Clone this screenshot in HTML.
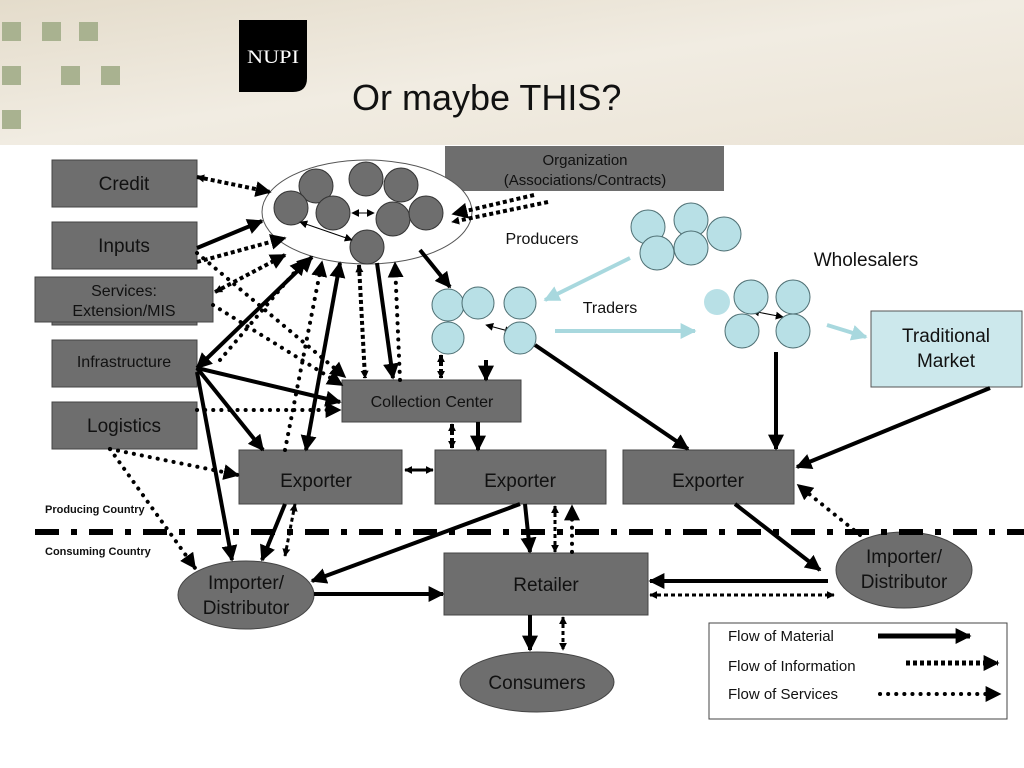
<!DOCTYPE html>
<html><head><meta charset="utf-8"><style>
html,body{margin:0;padding:0;width:1024px;height:768px;overflow:hidden;background:#fff;font-family:"Liberation Sans",sans-serif}
</style></head><body>
<svg width="1024" height="768" viewBox="0 0 1024 768" xmlns="http://www.w3.org/2000/svg" font-family="Liberation Sans, sans-serif">
<defs>
<linearGradient id="hdr" x1="0" y1="0" x2="1" y2="1">
<stop offset="0" stop-color="#e4dccb"/><stop offset="0.5" stop-color="#f1ece2"/><stop offset="1" stop-color="#ebe4d6"/>
</linearGradient>
<marker id="a" viewBox="0 0 10 10" refX="9" refY="5" markerWidth="16" markerHeight="16" markerUnits="userSpaceOnUse" orient="auto-start-reverse"><path d="M0,0L10,5L0,10z" fill="#000"/></marker>
<marker id="s" viewBox="0 0 10 10" refX="9" refY="5" markerWidth="8" markerHeight="8" markerUnits="userSpaceOnUse" orient="auto-start-reverse"><path d="M0,0L10,5L0,10z" fill="#000"/></marker>
<marker id="b" viewBox="0 0 10 10" refX="9" refY="5" markerWidth="16" markerHeight="16" markerUnits="userSpaceOnUse" orient="auto"><path d="M0,0L10,5L0,10z" fill="#a8d8de"/></marker>
</defs>
<rect x="0" y="0" width="1024" height="145" fill="url(#hdr)"/>
<g fill="#a9b290">
<rect x="2" y="22" width="19" height="19"/><rect x="42" y="22" width="19" height="19"/><rect x="79" y="22" width="19" height="19"/>
<rect x="2" y="66" width="19" height="19"/><rect x="61" y="66" width="19" height="19"/><rect x="101" y="66" width="19" height="19"/>
<rect x="2" y="110" width="19" height="19"/>
</g>
<path d="M239,20H307V78Q307,92 293,92H239z" fill="#000"/>
<text x="247" y="63" font-family="Liberation Serif, serif" font-size="19" fill="#fff" textLength="52" lengthAdjust="spacingAndGlyphs">NUPI</text>
<text x="352" y="110" font-size="36" fill="#111">Or maybe THIS?</text>

<!-- boxes -->
<g fill="#6e6e6e" stroke="#444" stroke-width="1">
<rect x="52" y="160" width="145" height="47"/>
<rect x="52" y="222" width="145" height="47"/>
<rect x="52" y="300" width="145" height="25"/>
<rect x="35" y="277" width="178" height="45"/>
<rect x="52" y="340" width="145" height="47"/>
<rect x="52" y="402" width="145" height="47"/>
<rect x="445" y="146" width="279" height="45" stroke="none"/>
<rect x="342" y="380" width="179" height="42"/>
<rect x="239" y="450" width="163" height="54"/>
<rect x="435" y="450" width="171" height="54"/>
<rect x="623" y="450" width="171" height="54"/>
<rect x="444" y="553" width="204" height="62"/>
<ellipse cx="537" cy="682" rx="77" ry="30"/>
<ellipse cx="246" cy="595" rx="68" ry="34"/>
<ellipse cx="904" cy="570" rx="68" ry="38"/>
</g>
<rect x="871" y="311" width="151" height="76" fill="#cce8ec" stroke="#555"/>
<g font-size="19" fill="#111" text-anchor="middle">
<text x="124" y="190">Credit</text>
<text x="124" y="252">Inputs</text>
<text x="124" y="296" font-size="16">Services:</text>
<text x="124" y="316" font-size="16">Extension/MIS</text>
<text x="124" y="367" font-size="16">Infrastructure</text>
<text x="124" y="432">Logistics</text>
<text x="585" y="165" font-size="15">Organization</text>
<text x="585" y="185" font-size="15">(Associations/Contracts)</text>
<text x="432" y="407" font-size="16">Collection Center</text>
<text x="316" y="487">Exporter</text>
<text x="520" y="487">Exporter</text>
<text x="708" y="487">Exporter</text>
<text x="546" y="591">Retailer</text>
<text x="537" y="689">Consumers</text>
<text x="246" y="589">Importer/</text>
<text x="246" y="614">Distributor</text>
<text x="904" y="563">Importer/</text>
<text x="904" y="588">Distributor</text>
<text x="946" y="342">Traditional</text>
<text x="946" y="367">Market</text>
<text x="542" y="244" font-size="16">Producers</text>
<text x="610" y="313" font-size="16">Traders</text>
<text x="866" y="266" font-size="19">Wholesalers</text>
</g>
<text x="45" y="513" font-size="11" font-weight="bold" fill="#111">Producing Country</text>
<text x="45" y="555" font-size="11" font-weight="bold" fill="#111">Consuming Country</text>

<!-- producer ellipse -->
<ellipse cx="367" cy="212" rx="105" ry="52" fill="#fff" stroke="#555"/>
<g fill="#6e6e6e" stroke="#333">
<circle cx="316" cy="186" r="17"/><circle cx="366" cy="179" r="17"/><circle cx="401" cy="185" r="17"/>
<circle cx="291" cy="208" r="17"/><circle cx="333" cy="213" r="17"/><circle cx="393" cy="219" r="17"/>
<circle cx="426" cy="213" r="17"/><circle cx="367" cy="247" r="17"/>
</g>
<g stroke="#000" stroke-width="1" fill="none">
<line x1="352" y1="213" x2="374" y2="213" marker-start="url(#s)" marker-end="url(#s)"/>
<line x1="300" y1="222" x2="352" y2="240" marker-start="url(#s)" marker-end="url(#s)"/>
<line x1="486" y1="325" x2="512" y2="332" marker-start="url(#s)" marker-end="url(#s)"/>
<line x1="752" y1="311" x2="783" y2="317" marker-start="url(#s)" marker-end="url(#s)"/>
</g>
<!-- light blue circles -->
<g fill="#b8e0e6" stroke="#4d6e72">
<circle cx="448" cy="305" r="16"/><circle cx="478" cy="303" r="16"/><circle cx="520" cy="303" r="16"/>
<circle cx="448" cy="338" r="16"/><circle cx="520" cy="338" r="16"/>
<circle cx="648" cy="227" r="17"/><circle cx="691" cy="220" r="17"/><circle cx="724" cy="234" r="17"/>
<circle cx="657" cy="253" r="17"/><circle cx="691" cy="248" r="17"/>
<circle cx="717" cy="302" r="13" stroke="none"/>
<circle cx="751" cy="297" r="17"/><circle cx="793" cy="297" r="17"/>
<circle cx="742" cy="331" r="17"/><circle cx="793" cy="331" r="17"/>
</g>
<g stroke="#a8d8de" stroke-width="4" fill="none">
<line x1="630" y1="258" x2="545" y2="300" marker-end="url(#b)"/>
<line x1="555" y1="331" x2="695" y2="331" marker-end="url(#b)"/>
<line x1="827" y1="325" x2="866" y2="337" marker-end="url(#b)"/>
</g>

<!-- dash-dot separator -->
<line x1="35" y1="532" x2="1024" y2="532" stroke="#000" stroke-width="6" stroke-dasharray="24 12 6 12"/>

<!-- solid material arrows -->
<g stroke="#000" stroke-width="4" fill="none">
<line x1="197" y1="248" x2="262" y2="221" marker-end="url(#a)"/>
<line x1="197" y1="368" x2="312" y2="257" marker-start="url(#a)" marker-end="url(#a)"/>
<line x1="197" y1="368" x2="340" y2="402" marker-end="url(#a)"/>
<line x1="197" y1="368" x2="263" y2="450" marker-end="url(#a)"/>
<line x1="197" y1="372" x2="232" y2="560" marker-end="url(#a)"/>
<line x1="340" y1="263" x2="306" y2="450" marker-start="url(#a)" marker-end="url(#a)"/>
<line x1="377" y1="263" x2="393" y2="378" marker-end="url(#a)"/>
<line x1="420" y1="250" x2="450" y2="287" marker-end="url(#a)"/>
<line x1="486" y1="360" x2="486" y2="380" marker-end="url(#a)"/>
<line x1="478" y1="422" x2="478" y2="450" marker-end="url(#a)"/>
<line x1="535" y1="345" x2="688" y2="449" marker-end="url(#a)"/>
<line x1="776" y1="352" x2="776" y2="449" marker-end="url(#a)"/>
<line x1="990" y1="388" x2="797" y2="467" marker-end="url(#a)"/>
<line x1="285" y1="504" x2="262" y2="560" marker-end="url(#a)"/>
<line x1="520" y1="504" x2="312" y2="581" marker-end="url(#a)"/>
<line x1="525" y1="504" x2="530" y2="552" marker-end="url(#a)"/>
<line x1="735" y1="504" x2="820" y2="570" marker-end="url(#a)"/>
<line x1="828" y1="581" x2="650" y2="581" marker-end="url(#a)"/>
<line x1="314" y1="594" x2="443" y2="594" marker-end="url(#a)"/>
<line x1="530" y1="615" x2="530" y2="650" marker-end="url(#a)"/>
<line x1="405" y1="470" x2="433" y2="470" stroke-width="3" marker-start="url(#s)" marker-end="url(#s)"/>
<line x1="878" y1="636" x2="970" y2="636" stroke-width="5" marker-end="url(#a)"/>
</g>
<!-- information (dashed) -->
<g stroke="#000" stroke-width="4" fill="none" stroke-dasharray="4 3">
<line x1="197" y1="177" x2="270" y2="192" marker-start="url(#s)" marker-end="url(#a)"/>
<line x1="197" y1="262" x2="285" y2="238" marker-end="url(#a)"/>
<line x1="215" y1="292" x2="285" y2="255" marker-start="url(#s)" marker-end="url(#a)"/>
<line x1="534" y1="195" x2="453" y2="214" marker-end="url(#a)"/>
<line x1="548" y1="202" x2="452" y2="222" marker-end="url(#s)"/>
<line x1="359" y1="265" x2="365" y2="378" marker-start="url(#s)" marker-end="url(#s)"/>
<line x1="441" y1="355" x2="441" y2="378" marker-start="url(#s)" marker-end="url(#s)"/>
<line x1="452" y1="424" x2="452" y2="448" marker-start="url(#s)" marker-end="url(#s)"/>
<line x1="295" y1="504" x2="285" y2="556" stroke-width="3" marker-start="url(#s)" marker-end="url(#s)"/>
<line x1="555" y1="506" x2="555" y2="552" stroke-width="3" marker-start="url(#s)" marker-end="url(#s)"/>
<line x1="650" y1="595" x2="834" y2="595" stroke-width="3" marker-start="url(#s)" marker-end="url(#s)"/>
<line x1="563" y1="617" x2="563" y2="650" stroke-width="3" marker-start="url(#s)" marker-end="url(#s)"/>
<line x1="906" y1="663" x2="998" y2="663" stroke-width="5" marker-end="url(#a)"/>
</g>
<!-- services (dotted) -->
<g stroke="#000" stroke-width="4" fill="none" stroke-dasharray="0.1 8" stroke-linecap="round">
<line x1="197" y1="253" x2="345" y2="377" marker-end="url(#a)"/>
<line x1="213" y1="305" x2="342" y2="385" marker-end="url(#a)"/>
<line x1="197" y1="410" x2="340" y2="410" marker-end="url(#a)"/>
<line x1="220" y1="360" x2="305" y2="260" marker-end="url(#a)"/>
<line x1="285" y1="450" x2="322" y2="262" marker-end="url(#a)"/>
<line x1="400" y1="380" x2="395" y2="263" marker-end="url(#a)"/>
<line x1="110" y1="449" x2="238" y2="475" marker-end="url(#a)"/>
<line x1="110" y1="449" x2="195" y2="568" marker-end="url(#a)"/>
<line x1="572" y1="552" x2="572" y2="506" marker-end="url(#a)"/>
<line x1="860" y1="535" x2="798" y2="485" marker-end="url(#a)"/>
<line x1="880" y1="694" x2="1000" y2="694" marker-end="url(#a)"/>
</g>

<!-- legend -->
<rect x="709" y="623" width="298" height="96" fill="none" stroke="#444"/>
<g font-size="15" fill="#111">
<text x="728" y="641">Flow of Material</text>
<text x="728" y="671">Flow of Information</text>
<text x="728" y="699">Flow of Services</text>
</g>
</svg>
</body></html>
